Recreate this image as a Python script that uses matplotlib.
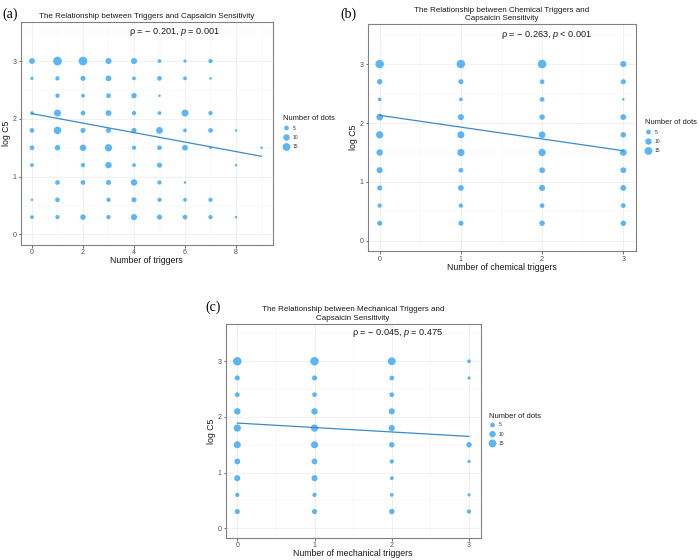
import numpy as np
import matplotlib
matplotlib.use("Agg")
import matplotlib.pyplot as plt
from matplotlib.ticker import MultipleLocator

plt.rcParams['font.family'] = ['Liberation Sans', 'DejaVu Sans']
plt.rcParams['mathtext.fontset'] = 'custom'
plt.rcParams['mathtext.it'] = 'Liberation Sans:italic'
plt.rcParams['mathtext.rm'] = 'Liberation Sans'

# ---------------- data ----------------
log_c5_levels = [3.0, 2.7, 2.4, 2.1, 1.8, 1.5, 1.2, 0.9, 0.6, 0.3]

triggers_all = [0, 1, 2, 3, 4, 5, 6, 7, 8, 9]
counts_all = [
    [8, 19, 19, 9, 9, 3, 2, 4, 0, 0],
    [2, 4, 6, 8, 3, 5, 3, 1, 0, 0],
    [0, 4, 3, 5, 7, 1, 0, 0, 0, 0],
    [3, 12, 5, 8, 4, 3, 12, 4, 0, 0],
    [5, 14, 6, 6, 6, 11, 3, 5, 1, 0],
    [5, 7, 10, 13, 4, 5, 8, 1, 0, 1],
    [3, 0, 4, 10, 3, 6, 0, 0, 1, 0],
    [0, 5, 5, 6, 10, 4, 1, 0, 0, 0],
    [1, 5, 0, 4, 6, 4, 3, 4, 0, 0],
    [3, 4, 7, 4, 9, 6, 5, 4, 1, 0],
]

triggers_chem = [0, 1, 2, 3]
counts_chem = [
    [18, 18, 18, 9],
    [7, 6, 5, 6],
    [3, 3, 5, 1],
    [11, 9, 7, 8],
    [13, 12, 11, 7],
    [10, 13, 13, 11],
    [9, 5, 8, 8],
    [6, 8, 9, 8],
    [4, 4, 5, 5],
    [6, 6, 7, 7],
]

triggers_mech = [0, 1, 2, 3]
counts_mech = [
    [18, 18, 15, 3],
    [6, 6, 5, 2],
    [5, 5, 5, 0],
    [10, 10, 9, 0],
    [13, 13, 9, 0],
    [12, 12, 7, 7],
    [8, 8, 4, 2],
    [9, 9, 3, 0],
    [4, 4, 3, 2],
    [6, 6, 7, 4],
]

# fitted regression lines (intercept, slope)
fit_all = (2.09, -0.082)
fit_chem = (2.13, -0.20)
fit_mech = (1.89, -0.08)

annot_all = "ρ = − 0.201, $\\mathit{p}$ = 0.001"
annot_chem = "ρ = − 0.263, $\\mathit{p}$ < 0.001"
annot_mech = "ρ = − 0.045, $\\mathit{p}$ = 0.475"

legend_breaks = [5, 10, 15]
legend_labels = ["5", "10", "15"]

# ---------------- styling ----------------
W, H = 699, 560
DOT = "#4DB0F3"
LINE = "#3C8ACB"
GRID = "#EBEBEB"
TICKC = "#4D4D4D"


def dot_size(c):
    return 1.5 + 2.0 * np.asarray(c, dtype=float)


def rect(l, t, r, b):
    return [l / W, 1 - b / H, (r - l) / W, (b - t) / H]


fig = plt.figure(figsize=(W / 100, H / 100), dpi=100)


def panel(r, xs, counts, fit, xlim, xmajor, title, xlabel, annot, annot_x):
    ax = fig.add_axes(r)
    X, Y = np.meshgrid(xs, log_c5_levels)
    C = np.asarray(counts, dtype=float)
    m = C > 0
    ax.scatter(X[m], Y[m], s=dot_size(C[m]), color=DOT, alpha=0.92,
               edgecolors="none", zorder=3)
    xx = np.array([min(xs), max(xs)], dtype=float)
    ax.plot(xx, fit[0] + fit[1] * xx, color=LINE, lw=0.9, zorder=4)
    ax.set_xlim(*xlim)
    ax.set_ylim(-0.175, 3.675)
    ax.xaxis.set_major_locator(MultipleLocator(xmajor))
    ax.xaxis.set_minor_locator(MultipleLocator(xmajor / 2))
    ax.yaxis.set_major_locator(MultipleLocator(1))
    ax.yaxis.set_minor_locator(MultipleLocator(0.5))
    ax.grid(True, which="major", color=GRID, lw=0.5, zorder=0)
    ax.grid(True, which="minor", color="#F4F4F4", lw=0.35, zorder=0)
    ax.set_axisbelow(True)
    for s in ax.spines.values():
        s.set_color("#808080")
        s.set_linewidth(0.8)
    ax.tick_params(which="major", length=1.8, width=0.5, color="#333333",
                   labelsize=5, labelcolor=TICKC, pad=1.3)
    ax.tick_params(which="minor", length=0)
    ax.set_title(title, fontsize=5.8, pad=3, color="#1A1A1A",
                 linespacing=1.3)
    ax.set_xlabel(xlabel, fontsize=6.3, labelpad=0, color="#1A1A1A")
    ax.set_ylabel("log C5", fontsize=6.3, labelpad=0.8, color="#1A1A1A")
    ax.text(annot_x, 3.5, annot, fontsize=6.6, ha="center", va="center",
            color="#1A1A1A")
    return ax


ax_a = panel(rect(20.5, 22, 273, 244.6), triggers_all, counts_all, fit_all,
             (-0.45, 9.45), 2,
             "The Relationship between Triggers and Capsaicin Sensitivity",
             "Number of triggers", annot_all, 5.6)
ax_b = panel(rect(367.5, 24.2, 635.5, 251.3), triggers_chem, counts_chem,
             fit_chem, (-0.15, 3.15), 1,
             "The Relationship between Chemical Triggers and\nCapsaicin Sensitivity",
             "Number of chemical triggers", annot_chem, 2.06)
ax_c = panel(rect(225.7, 323.7, 480.6, 538), triggers_mech, counts_mech,
             fit_mech, (-0.15, 3.15), 1,
             "The Relationship between Mechanical Triggers and\nCapsaicin Sensitivity",
             "Number of mechanical triggers", annot_mech, 2.07)

# overlay for legends and panel letters (pixel coordinates)
ov = fig.add_axes([0, 0, 1, 1])
ov.set_xlim(0, W)
ov.set_ylim(H, 0)
ov.axis("off")


def legend(x0, y0, pitch):
    ov.text(x0, y0, "Number of dots", fontsize=5.4, ha="left", va="center",
            color="#1A1A1A")
    for i, (b, lab) in enumerate(zip(legend_breaks, legend_labels)):
        yy = y0 + 9 + i * pitch
        ov.scatter([x0 + 3.5], [yy], s=dot_size(b), color=DOT, alpha=0.92,
                   edgecolors="none")
        ov.text(x0 + 10, yy, lab, fontsize=3.6, ha="left", va="center",
                color="#333333")


legend(283, 119, 9.5)
legend(645, 123, 9.5)
legend(489, 416, 9.2)

ov.text(2, 14, "(a)", fontsize=10, family="Liberation Serif", ha="left",
        va="center")
ov.text(340, 14, "(b)", fontsize=10, family="Liberation Serif", ha="left",
        va="center")
ov.text(205, 307, "(c)", fontsize=10, family="Liberation Serif", ha="left",
        va="center")

fig.savefig("out.png", dpi=100)
